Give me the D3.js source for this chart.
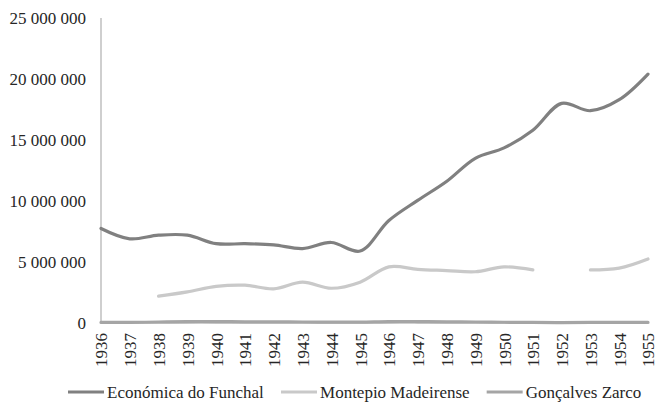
<!DOCTYPE html>
<html lang="en">
<head>
<meta charset="utf-8">
<script src="https://d3js.org/d3.v7.min.js"></script>
<style type="text/css">
body {
	margin: 0;
	background: #fff;
}
svg text {
	font-family: 'Liberation Serif', serif !important;
	fill: #262626;
}
</style>
</head>
<body>
<script type="text/javascript">

// chart size
const width = 656;
const height = 404;
const serif = "'Liberation Serif', serif";

// data
const years = ['1936','1937','1938','1939','1940','1941','1942','1943','1944','1945',
               '1946','1947','1948','1949','1950','1951','1952','1953','1954','1955'];

const economica = [7.75e6, 6.9e6, 7.2e6, 7.2e6, 6.5e6, 6.5e6, 6.4e6, 6.1e6, 6.6e6, 5.9e6,
                   8.4e6, 10.05e6, 11.6e6, 13.5e6, 14.35e6, 15.8e6, 18.0e6, 17.4e6, 18.3e6, 20.4e6];

const montepio = [null, null, 2.2e6, 2.55e6, 3.0e6, 3.1e6, 2.8e6, 3.35e6, 2.85e6, 3.35e6,
                  4.6e6, 4.4e6, 4.3e6, 4.2e6, 4.6e6, 4.35e6, null, 4.35e6, 4.5e6, 5.25e6];

const zarco = [0.05e6, 0.05e6, 0.08e6, 0.12e6, 0.12e6, 0.1e6, 0.1e6, 0.08e6, 0.07e6, 0.07e6,
               0.12e6, 0.12e6, 0.1e6, 0.08e6, 0.06e6, 0.05e6, 0.03e6, 0.05e6, 0.05e6, 0.05e6];

const yTicks = [0, 5e6, 10e6, 15e6, 20e6, 25e6];

const seriesNames = ['Económica do Funchal', 'Montepio Madeirense', 'Gonçalves Zarco'];
const seriesColors = ['#808080', '#c9c9c9', '#a5a5a5'];
const seriesValues = [economica, montepio, zarco];

// scales
const x = d3.scalePoint()
	.domain(years)
	.range([101, 648]);

const y = d3.scaleLinear()
	.domain([0, 25e6])
	.range([323, 18]);

const fmt = v => d3.format(',')(v).replace(/,/g, ' ');

const svg = d3.select('body')
	.append('svg')
	.attr('width', width)
	.attr('height', height)
	.style('display', 'block');

// apply the serif text style, forced
function serifText(sel) {
	sel.style('font-family', serif, 'important')
		.style('font-size', '17px', 'important')
		.style('fill', '#262626');
}

// y axis: labels only plus the grey axis line
const yAxis = d3.axisLeft(y)
	.tickValues(yTicks)
	.tickFormat(fmt)
	.tickSize(0)
	.tickPadding(15);

svg.append('g')
	.attr('transform', 'translate(101,0)')
	.call(yAxis)
	.call(g => g.select('.domain').remove())
	.selectAll('text')
	.call(serifText);

svg.append('line')
	.attr('x1', 101).attr('x2', 101)
	.attr('y1', y(25e6)).attr('y2', y(0))
	.style('stroke', '#bfbfbf')
	.style('stroke-width', 1.5);

svg.append('line')
	.attr('x1', 101).attr('x2', 648)
	.attr('y1', y(0)).attr('y2', y(0))
	.style('stroke', '#bfbfbf')
	.style('stroke-width', 1.5);

// x axis labels, rotated
const xAxis = d3.axisBottom(x).tickSize(0).tickPadding(0);

svg.append('g')
	.attr('transform', 'translate(0,' + y(0) + ')')
	.call(xAxis)
	.call(g => g.select('.domain').remove())
	.selectAll('text')
	.attr('transform', 'rotate(-90)')
	.attr('x', -10)
	.attr('y', 0)
	.attr('dy', '0.35em')
	.style('text-anchor', 'end')
	.call(serifText);

// smoothed lines
const line = d3.line()
	.defined(d => d !== null)
	.x((d, i) => x(years[i]))
	.y(d => y(d))
	.curve(d3.curveCatmullRom.alpha(0.5));

svg.selectAll('path.series')
	.data(seriesValues)
	.enter()
	.append('path')
	.attr('class', 'series')
	.attr('d', d => line(d))
	.style('fill', 'none')
	.style('stroke', (d, i) => seriesColors[i])
	.style('stroke-width', 3.2)
	.style('stroke-linecap', 'round');

// legend
const items = svg.append('g')
	.selectAll('g')
	.data(seriesNames)
	.enter()
	.append('g');

items.append('line')
	.attr('x1', 0).attr('x2', 36)
	.attr('y1', 0).attr('y2', 0)
	.style('stroke', (d, i) => seriesColors[i])
	.style('stroke-width', 3.2);

items.append('text')
	.attr('x', 39)
	.attr('dy', '0.33em')
	.call(serifText)
	.text(d => d);

let lx = 68;
items.each(function () {
	const w = this.getBBox().width;
	d3.select(this).attr('transform', 'translate(' + lx + ',392)');
	lx += w + 17;
});

</script>
</body>
</html>
